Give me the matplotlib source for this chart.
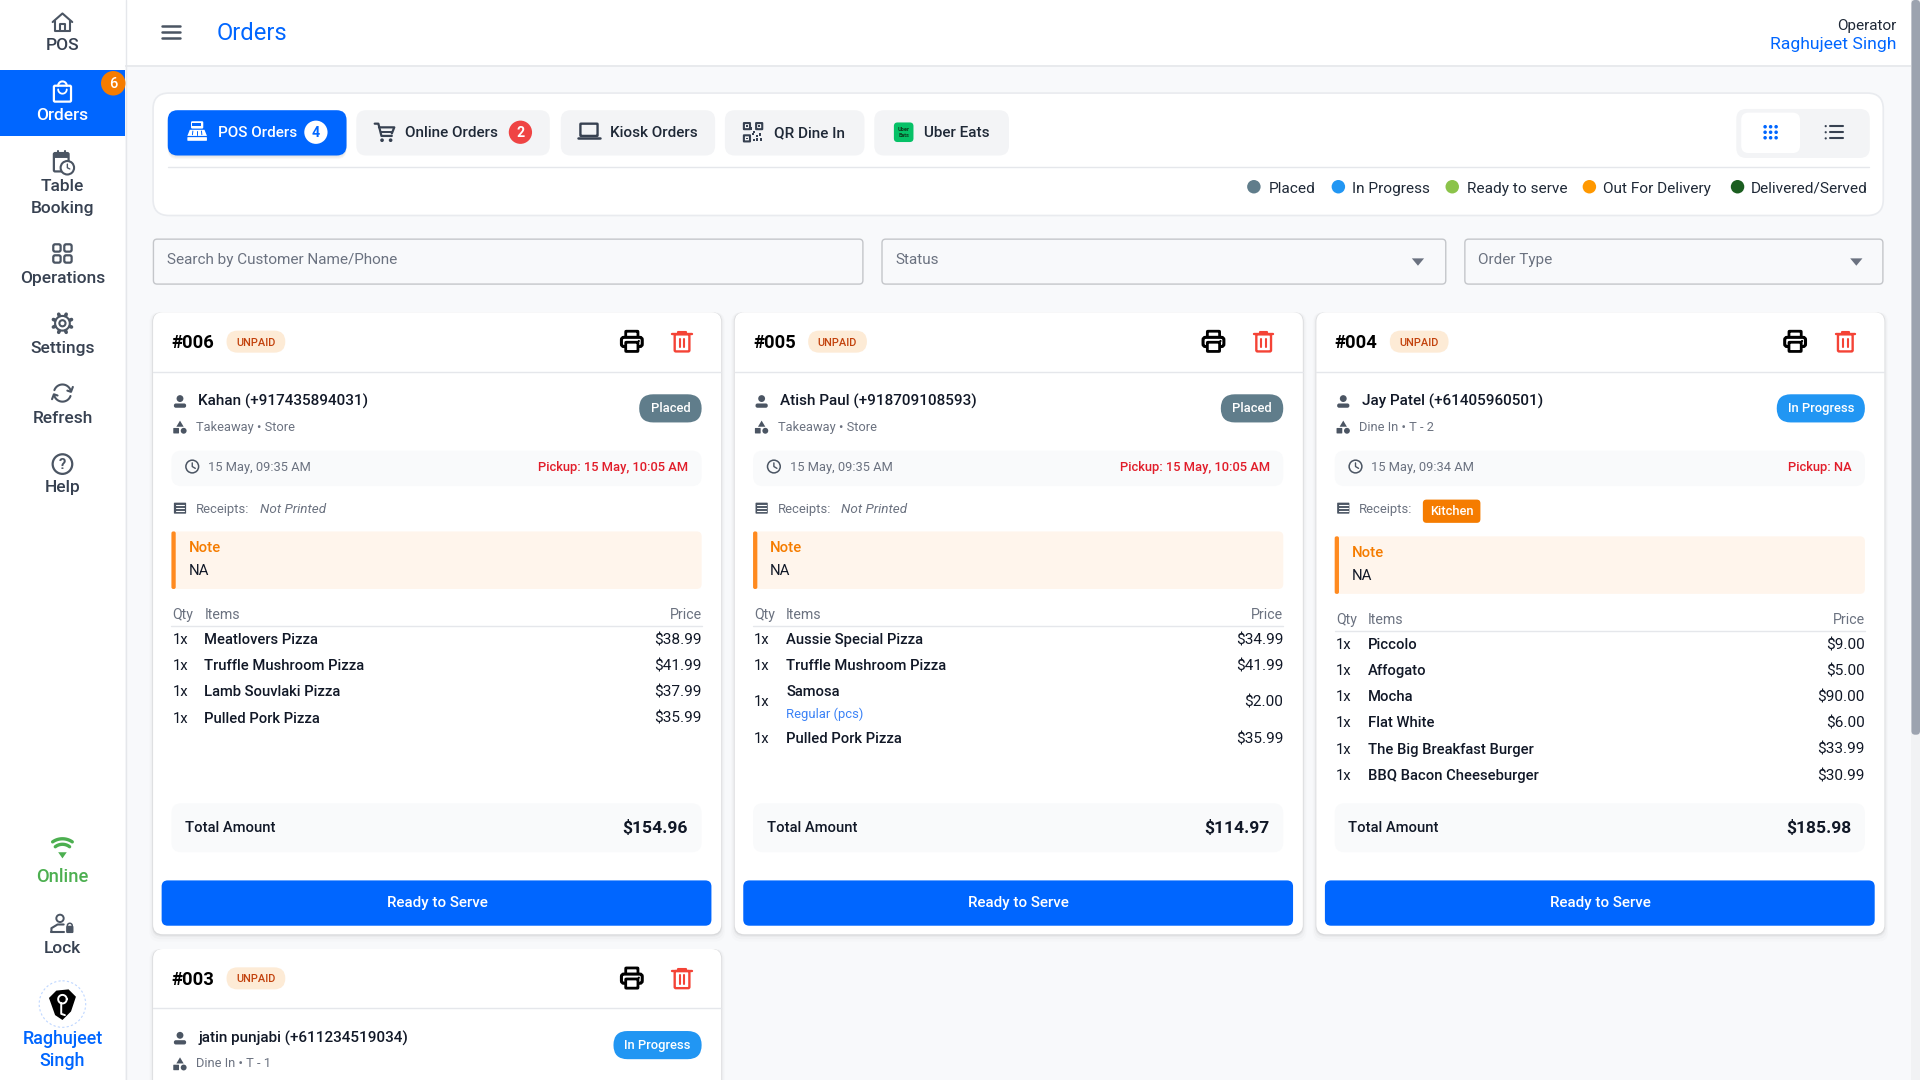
import numpy as np
import matplotlib
matplotlib.use("Agg")
import matplotlib.pyplot as plt
from matplotlib.patches import FancyBboxPatch, Circle, Polygon, Ellipse

plt.rcParams['font.family'] = ['Roboto', 'DejaVu Sans']

# ---------- content ----------
nav_top = ["POS", "Orders", "Table\nBooking", "Operations", "Settings", "Refresh", "Help"]
tabs = ["POS Orders", "Online Orders", "Kiosk Orders", "QR Dine In", "Uber Eats"]
tab_counts = [4, 2, None, None, None]
legend_labels = ["Placed", "In Progress", "Ready to serve", "Out For Delivery", "Delivered/Served"]
legend_colors = ["#607D8B", "#2196F3", "#8BC34A", "#FF9800", "#1B5E20"]
filters = ["Search by Customer Name/Phone", "Status", "Order Type"]

order_ids = ["#006", "#005", "#004"]
customers = ["Kahan (+917435894031)", "Atish Paul (+918709108593)", "Jay Patel (+61405960501)"]
order_types = ["Takeaway • Store", "Takeaway • Store", "Dine In • T - 2"]
statuses = ["Placed", "Placed", "In Progress"]
dates = ["15 May, 09:35 AM", "15 May, 09:35 AM", "15 May, 09:34 AM"]
pickups = ["Pickup: 15 May, 10:05 AM", "Pickup: 15 May, 10:05 AM", "Pickup: NA"]
receipts = ["Not Printed", "Not Printed", "Kitchen"]
item_names = [
    ["Meatlovers Pizza", "Truffle Mushroom Pizza", "Lamb Souvlaki Pizza", "Pulled Pork Pizza"],
    ["Aussie Special Pizza", "Truffle Mushroom Pizza", "Samosa", "Pulled Pork Pizza"],
    ["Piccolo", "Affogato", "Mocha", "Flat White", "The Big Breakfast Burger", "BBQ Bacon Cheeseburger"],
]
item_prices = [
    ["$38.99", "$41.99", "$37.99", "$35.99"],
    ["$34.99", "$41.99", "$2.00", "$35.99"],
    ["$9.00", "$5.00", "$90.00", "$6.00", "$33.99", "$30.99"],
]
totals = ["$154.96", "$114.97", "$185.98"]

BLUE = "#0066FF"; DARK = "#111827"; ICON = "#4B5563"; GRAY = "#6B7280"; LINE = "#E5E7EB"
BG = "#F8F9FB"; SOFT = "#F9FAFB"; RED = "#F44336"; TAB = "#F3F4F6"

fig = plt.figure(figsize=(19.2, 10.8), dpi=100, facecolor=BG)
ax = fig.add_axes([0, 0, 1, 1])
ax.set_xlim(0, 1568); ax.set_ylim(882, 0); ax.axis("off")
PT = 1920 / 1568 * 0.72

def rr(x0, y0, x1, y1, r=0, fc="white", ec="none", lw=0, z=6, alpha=None):
    ax.add_patch(FancyBboxPatch((x0, y0), x1 - x0, y1 - y0,
                 boxstyle=f"round,pad=0,rounding_size={r}" if r else "square,pad=0",
                 fc=fc, ec=ec, lw=lw, zorder=z, alpha=alpha))

def T(x, y, s, px=13, c=DARK, ha="left", w="normal", st="normal", z=8):
    ax.text(x, y + 0.36 * px, s, fontsize=px * PT, color=c, ha=ha, va="baseline",
            fontweight=w, fontstyle=st, zorder=z)

def L(xs, ys, c=ICON, lw=1.5, z=6):
    ax.plot(xs, ys, color=c, lw=lw, solid_capstyle="round", solid_joinstyle="round", zorder=z)

def arc(cx, cy, r, a0, a1, c=ICON, lw=1.5, z=6):
    t = np.radians(np.linspace(a0, a1, 40))
    L(cx + r * np.cos(t), cy - r * np.sin(t), c, lw, z)

def poly(pts, fc=ICON, ec="none", lw=0, z=6):
    ax.add_patch(Polygon(pts, closed=True, fc=fc, ec=ec, lw=lw, zorder=z))

def circ(x, y, r, fc=ICON, ec="none", lw=0, z=6):
    ax.add_patch(Circle((x, y), r, fc=fc, ec=ec, lw=lw, zorder=z))

def box(x0, y0, x1, y1, c=ICON, lw=1.5, r=1, z=6, fc="none"):
    rr(x0, y0, x1, y1, r, fc=fc, ec=c, lw=lw, z=z)

# ---------- icons ----------
def i_home(x, y):
    L([x - 8, x, x + 8], [y, y - 7, y]); L([x - 6, x - 6, x + 6, x + 6], [y - 1, y + 7, y + 7, y - 1])
    L([x - 2, x - 2, x + 2, x + 2], [y + 7, y + 2, y + 2, y + 7])
def i_bag(x, y, c="white"):
    box(x - 7, y - 5, x + 7, y + 8, c, 1.6); arc(x, y - 5, 3.5, 0, 180, c, 1.5); arc(x, y - 2, 3.5, 180, 360, c, 1.3)
def i_calendar(x, y):
    box(x - 7, y - 7, x + 5, y + 8, ICON, 1.6); rr(x - 7, y - 7, x + 5, y - 3, 1, fc=ICON)
    L([x - 4, x - 4], [y - 9, y - 6]); L([x + 2, x + 2], [y - 9, y - 6])
    circ(x + 4, y + 5, 5.5, fc="white", ec=ICON, lw=1.5, z=7); L([x + 4, x + 4, x + 6], [y + 2, y + 5, y + 6], ICON, 1, 8)
def i_grid(x, y):
    for dx in (-7.5, 1.5):
        for dy in (-7.5, 1.5):
            box(x + dx, y + dy, x + dx + 6, y + dy + 6, ICON, 1.6, 1.5)
def i_gear(x, y):
    for a in np.arange(0, 360, 45):
        t = np.radians(a + 22.5)
        L([x + 5.5 * np.cos(t), x + 8 * np.cos(t)], [y + 5.5 * np.sin(t), y + 8 * np.sin(t)], ICON, 2.6)
    circ(x, y, 6, fc="white", ec=ICON, lw=1.5); circ(x, y, 2.5, fc="white", ec=ICON, lw=1.5, z=7)
def i_refresh(x, y):
    arc(x, y, 7, 20, 160); arc(x, y, 7, 200, 340)
    L([x + 4, x + 7, x + 8.5], [y - 2, y - 1, y - 5]); L([x - 8.5, x - 7, x - 4], [y + 5, y + 1, y + 2])
def i_help(x, y):
    circ(x, y, 8, fc="none", ec=ICON, lw=1.6); T(x, y - 0.5, "?", 12, ICON, "center", "bold")
def i_wifi(x, y, c="#4CAF50"):
    arc(x, y + 6, 14, 55, 125, c, 2.4); arc(x, y + 6, 9.5, 52, 128, c, 2.4)
    poly([(x - 3.5, y + 3), (x + 3.5, y + 3), (x, y + 8)], c)
def i_lock(x, y):
    circ(x - 2, y - 5, 3, fc="none", ec=ICON, lw=1.4)
    L([x - 9, x - 9, x - 4, x + 1], [y + 6, y + 3, y, y]); L([x - 9, x + 1], [y + 6, y + 6])
    rr(x + 3, y + 1, x + 9, y + 7, 1, fc=ICON); arc(x + 6, y + 1, 2, 0, 180, ICON, 1.1)
def i_person(x, y, c=ICON):
    circ(x, y - 2.5, 2.8, fc=c)
    rr(x - 5, y + 1.5, x + 5, y + 5, 1.6, fc=c)
def i_shapes(x, y, c=ICON):
    poly([(x, y - 5.5), (x - 3, y - 0.5), (x + 3, y - 0.5)], c); rr(x - 5.5, y + 0.5, x - 0.8, y + 5, 0.5, fc=c); circ(x + 3, y + 2.8, 2.4, fc=c)
def i_clock(x, y):
    circ(x, y, 5.2, fc="none", ec=ICON, lw=1.1); L([x, x, x + 2.5], [y - 3, y, y + 1.5], ICON, 1)
def i_receipt(x, y):
    rr(x - 5, y - 4.5, x + 5, y + 4.5, 0.6, fc=ICON)
    for d in (-2.2, 0, 2.2):
        L([x - 3.5, x + 3.5], [y + d, y + d], "white", 0.8, 7)
def i_printer(x, y):
    box(x - 5, y - 8.5, x + 5, y - 3, "black", 2, 0.5)
    box(x - 8.5, y - 3.5, x + 8.5, y + 4, "black", 2.2, 2, fc="white")
    box(x - 5, y + 0.5, x + 5, y + 8, "black", 2, 0.5, z=7, fc="white"); circ(x + 5.7, y - 0.5, 0.9, fc="black", z=8)
def i_trash(x, y, c=RED):
    L([x - 8, x + 8], [y - 6, y - 6], c, 1.7); L([x - 3, x - 3, x + 3, x + 3], [y - 6, y - 8, y - 8, y - 6], c, 1.5)
    box(x - 6, y - 6, x + 6, y + 8, c, 1.7, 1)
    L([x - 2, x - 2], [y - 2.5, y + 4.5], c, 1.5); L([x + 2, x + 2], [y - 2.5, y + 4.5], c, 1.5)
def i_register(x, y):
    c = "white"
    rr(x - 5, y - 8, x + 5, y - 2, 1, fc=c); rr(x - 4, y - 6.5, x + 3, y - 4.5, 0, fc=BLUE, z=7)
    poly([(x - 6, y - 1), (x + 6, y - 1), (x + 8, y + 4), (x - 8, y + 4)], c); rr(x - 8, y + 5, x + 8, y + 8, 0.5, fc=c)
    for dx in (-3.5, 0, 3.5):
        L([x + dx, x + dx * 1.1], [y, y + 3], BLUE, 0.7, 7)
def i_cart(x, y):
    c = "#374151"
    L([x - 8, x - 5, x - 2.5, x + 6], [y - 7, y - 7, y + 3, y + 3], c, 1.6)
    L([x - 4.5, x + 8, x + 6], [y - 4, y - 4, y + 1], c, 1.6); L([x - 3, x + 6], [y, y], c, 1.4)
    circ(x - 2, y + 6.5, 1.5, fc=c); circ(x + 5, y + 6.5, 1.5, fc=c)
def i_laptop(x, y):
    c = "#374151"
    box(x - 7, y - 6, x + 7, y + 4, c, 1.7, 0.5); L([x - 9, x + 9], [y + 6, y + 6], c, 1.8)
def i_qr(x, y):
    c = "#374151"
    for dx, dy in ((-7.5, -7.5), (2.5, -7.5), (-7.5, 2.5)):
        box(x + dx, y + dy, x + dx + 5, y + dy + 5, c, 1.5, 0.2); rr(x + dx + 1.8, y + dy + 1.8, x + dx + 3.2, y + dy + 3.2, 0, fc=c, z=7)
    for dx, dy in ((0, -1), (2, 2), (5, 1), (2, 5), (5.5, 5), (-2.5, -4), (-1, 0.5), (0, 5.5)):
        rr(x + dx, y + dy, x + dx + 1.8, y + dy + 1.8, 0, fc=c, z=7)
def i_dots(x, y):
    for dx in (-4.5, 0, 4.5):
        for dy in (-4.5, 0, 4.5):
            circ(x + dx, y + dy, 1.45, fc=BLUE)
def i_list(x, y):
    c = "#374151"
    for dy in (-5, 0, 5):
        circ(x - 7, y + dy, 0.9, fc=c); L([x - 3.5, x + 7.5], [y + dy, y + dy], c, 1.5)

# ---------- chrome ----------
rr(0, 0, 102, 882, fc="white", z=3)
L([102.5, 102.5], [0, 882], LINE, 1, 4)
rr(102, 0, 1568, 53, fc="white", z=1)
L([102, 1568], [53.5, 53.5], LINE, 1.2, 2)
rr(1561, 0, 1568, 882, fc="#F1F2F4", z=9)
rr(1561, 0, 1568, 600, 3, fc="#9CA3AF", z=10)

# sidebar
nav_pos = [(18, 36), (75, 93), (132, 151), (207, 226), (264, 283), (321, 340), (379, 397)]
nav_icons = [i_home, i_bag, i_calendar, i_grid, i_gear, i_refresh, i_help]
rr(0, 57, 102, 111, fc=BLUE, z=4)
circ(92.5, 68, 10, fc="#F57C00", z=5)
T(92.5, 67.5, "6", 12, "white", "center", "medium")
for label, (iy, ty), fn in zip(nav_top, nav_pos, nav_icons):
    selected = label == "Orders"
    fn(51, iy)
    for k, part in enumerate(label.split("\n")):
        T(51, ty + k * 18, part, 14.2, "white" if selected else "#374151", "center", "medium")
i_wifi(51, 693); T(51, 715, "Online", 15, "#4CAF50", "center", "medium")
i_lock(51, 755); T(51, 773, "Lock", 14.2, "#374151", "center", "medium")
ax.add_patch(Ellipse((51, 820), 38, 38, fc="white", ec="#BFD7FF", lw=0.8, ls=(0, (2, 2)), zorder=5))
poly([(40, 815), (46, 809), (56, 808), (62, 814), (58, 826), (51, 833), (45, 829)], "black")
arc(51, 816, 3.5, 0, 360, "white", 1.4, 7); L([50, 50, 53], [819, 828, 829], "white", 1.4, 7)
T(51, 847, "Raghujeet", 14.6, BLUE, "center", "medium"); T(51, 865, "Singh", 14.6, BLUE, "center", "medium")

# header
for yy in (21, 26, 31):
    L([132, 147], [yy, yy], "#4B5563", 1.8, 6)
T(177, 25.5, "Orders", 19.4, BLUE)
T(1549, 20, "Operator", 12.5, "#1F2937", "right")
T(1549, 35, "Raghujeet Singh", 14.3, BLUE, "right")

# top panel
rr(125, 76, 1538, 176, 13, fc="white", ec="#E9EBEF", lw=1.2, z=2)
tab_x = [(137, 283), (291, 449), (458, 584), (592, 706), (714, 824)]
tab_text_x = [178, 331, 498, 632, 755]
tab_badge_x = [258, 425, None, None, None]
for a in (3, 2, 1):
    rr(137, 90 + a, 283, 127 + a, 8, fc="#000000", alpha=0.03, z=2)
for k, (name, cnt, (x0, x1), tx, bx) in enumerate(zip(tabs, tab_counts, tab_x, tab_text_x, tab_badge_x)):
    rr(x0, 90, x1, 127, 8, fc=BLUE if k == 0 else TAB, z=3)
    T(tx, 107.5, name, 12.5, "white" if k == 0 else "#1F2937", w="medium")
    if cnt is not None:
        circ(bx, 108, 9.5, fc="white" if k == 0 else "#EF4444")
        T(bx, 107.5, str(cnt), 11.5, BLUE if k == 0 else "white", "center", "bold")
i_register(161, 107); i_cart(314, 108); i_laptop(481, 107); i_qr(615, 108)
rr(730, 100, 746, 116, 3, fc="#06C167")
T(738, 105.5, "Uber", 4.6, "#0B3D1E", "center", "bold"); T(738, 110.5, "Eats", 4.6, "#0B3D1E", "center", "bold")
L([137, 1526], [136.5, 136.5], LINE, 1, 3)
rr(1418, 89, 1527, 129, 8, fc=TAB, z=3)
rr(1422, 92, 1470, 125, 6, fc="white", z=4)
i_dots(1446, 108); i_list(1498, 108)

leg_dot = [1024, 1093, 1186, 1298, 1419]
leg_txt = [1036, 1104, 1198, 1309, 1430]
for lab, col, dx, tx in zip(legend_labels, legend_colors, leg_dot, leg_txt):
    circ(dx, 152.5, 5.5, fc=col)
    T(tx, 153, lab, 12.6, "#1F2937")

# filters
for name, (x0, x1), tx in zip(filters, [(125, 705), (720, 1181), (1196, 1538)], [136, 731, 1207]):
    rr(x0 + 0.3, 195.3, x1 - 0.3, 232, 3, fc="none", ec="#C4C6CA", lw=1, z=2)
    T(tx, 211, name, 12.5, GRAY)
for arrow_x in (1158, 1516):
    poly([(arrow_x - 5, 211), (arrow_x + 5, 211), (arrow_x, 217)], "#6B7280")

def pill(x0, x1, y0, y1, fc):
    rr(x0, y0, x1, y1, (y1 - y0) / 2 - 0.01, fc=fc, z=4)

STATUS_COL = dict(zip(legend_labels, legend_colors))

def card_head(cx, top, bottom, oid, cust, otype, status):
    for a, al in ((6, 0.012), (4, 0.02), (2, 0.035), (1, 0.06)):
        rr(cx - a * 0.5, top, cx + 464 + a * 0.5, bottom + a, 8, fc="black", alpha=al, z=2)
    rr(cx, top, cx + 464, bottom, 8, fc="white", z=3)
    dy = top - 255
    T(cx + 15, 279 + dy, oid, 15, "black", w="bold")
    pill(cx + 60, cx + 108, 270 + dy, 288 + dy, "#FDEBD6")
    T(cx + 84, 279 + dy, "UNPAID", 9, "#C2410C", "center", "medium")
    i_printer(cx + 391, 279 + dy); i_trash(cx + 432, 279 + dy)
    L([cx, cx + 464], [303.5 + dy, 303.5 + dy], LINE, 1, 4)
    i_person(cx + 22, 328 + dy); T(cx + 37, 327 + dy, cust, 12.5, DARK, w="medium")
    i_shapes(cx + 22, 349 + dy); T(cx + 35, 348 + dy, otype, 10.5, GRAY)
    wid = 51 if status == "Placed" else 72
    pill(cx + 448 - wid, cx + 448, 322 + dy, 345 + dy, STATUS_COL[status])
    T(cx + 448 - wid / 2, 333 + dy, status, 10.6, "white", "center", "medium")

card_x = [125, 600, 1075]
for n, cx in enumerate(card_x):
    card_head(cx, 255, 763, order_ids[n], customers[n], order_types[n], statuses[n])
    rr(cx + 15, 368, cx + 448, 397, 8, fc=SOFT, z=4)
    i_clock(cx + 32, 381); T(cx + 45, 381, dates[n], 10.5, GRAY)
    T(cx + 437, 381, pickups[n], 10.5, "#E11D2A", "right", "medium")
    i_receipt(cx + 22, 415); T(cx + 35, 415, "Receipts:", 10.6, GRAY)
    sh = 0
    if receipts[n] == "Kitchen":
        rr(cx + 87, 408, cx + 134, 427, 3, fc="#F57C00", z=4)
        T(cx + 110.5, 417, receipts[n], 10.5, "white", "center", "medium")
        sh = 4
    else:
        T(cx + 87, 415, receipts[n], 11, GRAY, st="italic")
    rr(cx + 15, 434 + sh, cx + 448, 481 + sh, 4, fc="#FFF5EC", z=4)
    rr(cx + 15, 434 + sh, cx + 18.5, 481 + sh, 1.5, fc="#FF8A1F", z=5)
    T(cx + 29, 446.5 + sh, "Note", 12.2, "#F57C00", w="medium")
    T(cx + 29, 465 + sh, "NA", 12.2, DARK)
    T(cx + 16, 501.5 + sh, "Qty", 11.5, GRAY); T(cx + 42, 501.5 + sh, "Items", 11.5, GRAY); T(cx + 448, 501.5 + sh, "Price", 11.5, GRAY, "right")
    L([cx + 15, cx + 448], [511.5 + sh, 511.5 + sh], LINE, 1, 5)
    y = 521.5 + sh
    for name, price in zip(item_names[n], item_prices[n]):
        if name == "Samosa":
            T(cx + 16, y + 8, "1x", 12.2, DARK); T(cx + 448, y + 8, price, 12.6, DARK, "right")
            T(cx + 42, y, name, 12.1, DARK, w="medium")
            T(cx + 42, y + 18.5, "Regular (pcs)", 10.6, "#3B82F6")
            y += 38
        else:
            T(cx + 16, y, "1x", 12.2, DARK); T(cx + 448, y, price, 12.6, DARK, "right")
            T(cx + 42, y, name, 12.1, DARK, w="medium")
            y += 21.4
    rr(cx + 15, 656, cx + 448, 696, 8, fc=SOFT, z=4)
    T(cx + 26, 675, "Total Amount", 12.1, DARK, w="medium")
    T(cx + 437, 675.5, totals[n], 14.3, DARK, "right", "bold")
    rr(cx + 7, 719, cx + 456, 756, 5, fc=BLUE, z=4)
    T(cx + 232, 736.5, "Ready to Serve", 12.4, "white", "center", "medium")

card_head(125, 775, 905, "#003", "jatin punjabi (+611234519034)", "Dine In • T - 1", "In Progress")
fig.savefig("out.png", dpi=100, facecolor=BG)
